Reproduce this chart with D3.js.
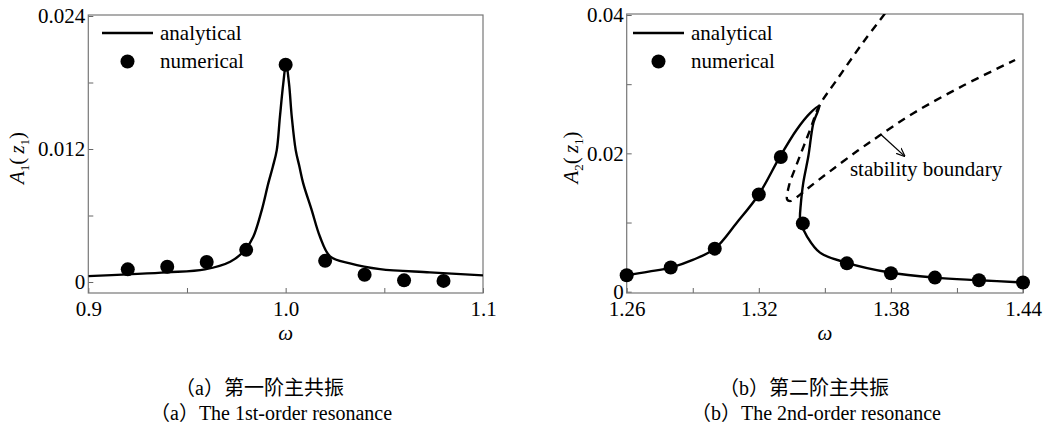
<!DOCTYPE html>
<html><head><meta charset="utf-8">
<script src="https://cdn.jsdelivr.net/npm/d3@7/dist/d3.min.js"></script>
<style>
html,body{margin:0;padding:0;background:#fff;}
svg{display:block;}
text{font-family:"Liberation Serif","Times New Roman",serif;fill:#000;}
text.cap{font-family:"Liberation Serif","Noto Sans CJK SC",serif;}
</style></head>
<body>
<svg id="chart" width="1052" height="434"></svg>
<script>
// ---------- data: (a) 1st-order resonance ----------
const aCurveOmega = [0.900,0.920,0.940,0.9591,0.9719,0.9794,0.9836,0.9879,0.9912,0.9935,0.9955,0.9971,0.9988,1.0002,1.0017,1.0031,1.0051,1.0070,1.0089,1.0132,1.0174,1.0225,1.0326,1.0478,1.0731,1.100];
const aCurveA     = [0.00053,0.00069,0.00087,0.00114,0.00183,0.00288,0.00408,0.00649,0.00890,0.01040,0.01190,0.01491,0.01792,0.01972,0.01792,0.01491,0.01190,0.01040,0.00890,0.00649,0.00408,0.00232,0.00168,0.00116,0.00087,0.00060];
const aNumOmega   = [0.92,0.94,0.96,0.98,1.00,1.02,1.04,1.06,1.08];
const aNumA       = [0.00114,0.00137,0.00180,0.00290,0.01960,0.00191,0.00065,0.00015,0.00010];
const aXTicks = [0.9,1.0,1.1], aXTickLabels = ["0.9","1.0","1.1"], aXMinor = [0.95,1.05];
const aYTicks = [0,0.012,0.024], aYTickLabels = ["0","0.012","0.024"], aYMinor = [0.006,0.018];

// ---------- data: (b) 2nd-order resonance ----------
const bCurveOmega = [1.260,1.270,1.280,1.290,1.300,1.310,1.320,1.3293,1.3372,1.3433,1.3475,1.3448,1.3425,1.3402,1.3390,1.3387,1.3392,1.3418,1.3478,1.3596,1.3796,1.400,1.420,1.440];
const bCurveA     = [0.00238,0.00290,0.00349,0.00460,0.00622,0.00997,0.01405,0.01934,0.02342,0.02582,0.02687,0.02438,0.01957,0.01573,0.01236,0.01069,0.00983,0.00804,0.00565,0.00421,0.00277,0.00204,0.00166,0.00133];
const bNumOmega   = [1.26,1.28,1.30,1.32,1.33,1.34,1.36,1.38,1.40,1.42,1.44];
const bNumA       = [0.00238,0.00349,0.00622,0.01405,0.01948,0.00987,0.00410,0.00267,0.00204,0.00166,0.00133];
const bStabOmega  = [1.3773,1.3675,1.3554,1.3475,1.3433,1.3372,1.3337,1.3329,1.3342,1.3357,1.3425,1.3523,1.3650,1.3750,1.3902,1.4129,1.4364];
const bStabA      = [0.0402,0.0361,0.0306,0.0269,0.0234,0.0184,0.0153,0.0133,0.0131,0.0133,0.0150,0.0174,0.0204,0.0226,0.0258,0.0298,0.0335];
const bXTicks = [1.26,1.32,1.38,1.44], bXTickLabels = ["1.26","1.32","1.38","1.44"], bXMinor = [1.29,1.35,1.41];
const bYTicks = [0,0.02,0.04], bYTickLabels = ["0","0.02","0.04"], bYMinor = [0.01,0.03];

const legendLabels = ["analytical","numerical"];
const captionsCN = ["（a）第一阶主共振","（b）第二阶主共振"];
const captionsEN = ["（a）The 1st-order resonance","（b）The 2nd-order resonance"];
const annotationText = "stability boundary";

// ---------- drawing ----------
const SERIF = "'Liberation Serif','Times New Roman',serif";
const svg = d3.select("#chart");
const defs = svg.append("defs");
defs.append("marker").attr("id","arr").attr("viewBox","0 0 10 10").attr("refX",9).attr("refY",5)
  .attr("markerWidth",9).attr("markerHeight",9).attr("markerUnits","userSpaceOnUse").attr("orient","auto")
  .append("path").attr("d","M0,1 L10,5 L0,9").attr("fill","none").attr("stroke","#000").attr("stroke-width",1.3);

function panel(cfg){
  const {id,left,right,top,bottom,x,y} = cfg;
  const g = svg.append("g");
  defs.append("clipPath").attr("id","clip"+id).append("rect")
    .attr("x",left).attr("y",top).attr("width",right-left).attr("height",bottom-top);
  const fmtX = (d)=>cfg.xLabels[cfg.xTicks.indexOf(d)];
  const fmtY = (d)=>cfg.yLabels[cfg.yTicks.indexOf(d)];
  const ax = g.append("g").attr("transform",`translate(0,${bottom})`)
    .call(d3.axisBottom(x).tickValues(cfg.xTicks).tickFormat(fmtX).tickSizeInner(-5).tickSizeOuter(0).tickPadding(4));
  const axm = g.append("g").attr("transform",`translate(0,${bottom})`)
    .call(d3.axisBottom(x).tickValues(cfg.xMinor).tickFormat("").tickSizeInner(-5).tickSizeOuter(0));
  const ay = g.append("g").attr("transform",`translate(${left},0)`)
    .call(d3.axisLeft(y).tickValues(cfg.yTicks).tickFormat(fmtY).tickSizeInner(-5).tickSizeOuter(0).tickPadding(3));
  const aym = g.append("g").attr("transform",`translate(${left},0)`)
    .call(d3.axisLeft(y).tickValues(cfg.yMinor).tickFormat("").tickSizeInner(-5).tickSizeOuter(0));
  [ax,axm,ay,aym].forEach(a=>{
    a.attr("font-family",null).attr("font-size",null);
    a.select(".domain").remove();
    a.selectAll("line").attr("stroke","#666").attr("stroke-width",1);
    a.selectAll("text").style("font-family",SERIF).style("font-size","21px").attr("fill","#000");
  });
  ax.selectAll("text").attr("dy","0.9em");
  ay.selectAll("text").attr("dy","0.33em");
  g.append("rect").attr("x",left).attr("y",top).attr("width",right-left).attr("height",bottom-top)
    .attr("fill","none").attr("stroke","#777").attr("stroke-width",1.2);
  const plot = g.append("g").attr("clip-path",`url(#clip${id})`);
  if(cfg.stab){
    plot.append("path").datum(cfg.stab)
      .attr("d",d3.line().x(d=>x(d[0])).y(d=>y(d[1])).curve(d3.curveCatmullRom.alpha(0.5)))
      .attr("fill","none").attr("stroke","#000").attr("stroke-width",2.4).attr("stroke-dasharray","8,6");
  }
  plot.append("path").datum(cfg.curve)
    .attr("d",d3.line().x(d=>x(d[0])).y(d=>y(d[1])).curve(d3.curveCatmullRom.alpha(0.5)))
    .attr("fill","none").attr("stroke","#000").attr("stroke-width",2.4).attr("stroke-linejoin","round");
  g.append("g").selectAll("circle").data(cfg.pts).join("circle")
    .attr("cx",d=>x(d[0])).attr("cy",d=>y(d[1])).attr("r",7).attr("fill","#000");
  const lx = cfg.legendX;
  g.append("line").attr("x1",lx).attr("x2",lx+51).attr("y1",33).attr("y2",33).attr("stroke","#000").attr("stroke-width",2.4);
  g.append("circle").attr("cx",lx+25.5).attr("cy",61.5).attr("r",7).attr("fill","#000");
  g.append("text").attr("x",lx+58).attr("y",33).attr("dy","0.32em").style("font-family",SERIF).style("font-size","21px").text(legendLabels[0]);
  g.append("text").attr("x",lx+58).attr("y",61).attr("dy","0.32em").style("font-family",SERIF).style("font-size","21px").text(legendLabels[1]);
  const yl = g.append("text").attr("transform",`translate(${cfg.yLabelX},${(top+bottom)/2+4}) rotate(-90)`)
    .attr("text-anchor","middle").style("font-family",SERIF).style("font-size","21px");
  yl.append("tspan").attr("font-style","italic").text("A");
  yl.append("tspan").style("font-size","13px").attr("dy",5).text(cfg.sub);
  yl.append("tspan").attr("dy",-5).text("(\u2009");
  yl.append("tspan").attr("font-style","italic").text("z");
  yl.append("tspan").style("font-size","13px").attr("dy",5).text("1");
  yl.append("tspan").attr("dy",-5).text(")");
  g.append("text").attr("x",(left+right)/2).attr("y",340).attr("text-anchor","middle")
    .style("font-family",SERIF).style("font-size","21px").attr("font-style","italic").text("\u03C9");
  return g;
}

const xa = d3.scaleLinear().domain([0.9,1.1]).range([88.3,483]);
const ya = d3.scaleLinear().domain([0,0.024]).range([282,16]);
panel({id:"a",left:88.3,right:483,top:15,bottom:293,x:xa,y:ya,
  xTicks:aXTicks,xLabels:aXTickLabels,xMinor:aXMinor,yTicks:aYTicks,yLabels:aYTickLabels,yMinor:aYMinor,
  curve:d3.zip(aCurveOmega,aCurveA),pts:d3.zip(aNumOmega,aNumA),legendX:102,yLabelX:24,sub:"1"});

const xb = d3.scaleLinear().domain([1.26,1.44]).range([626.7,1023]);
const yb = d3.scaleLinear().domain([0,0.04]).range([291.7,15]);
const gb = panel({id:"b",left:626.7,right:1023,top:14,bottom:293,x:xb,y:yb,
  xTicks:bXTicks,xLabels:bXTickLabels,xMinor:bXMinor,yTicks:bYTicks,yLabels:bYTickLabels,yMinor:bYMinor,
  curve:d3.zip(bCurveOmega,bCurveA),pts:d3.zip(bNumOmega,bNumA),stab:d3.zip(bStabOmega,bStabA),
  legendX:633,yLabelX:578,sub:"2"});

gb.append("line").attr("x1",xb(1.3752)).attr("y1",yb(0.0228)).attr("x2",xb(1.3862)).attr("y2",yb(0.0196))
  .attr("stroke","#000").attr("stroke-width",1.3).attr("marker-end","url(#arr)");
gb.append("text").attr("x",xb(1.3614)).attr("y",yb(0.0167)).style("font-family",SERIF).style("font-size","21px").text(annotationText);

const capCN = [175,719], capEN = [150,691];
captionsCN.forEach((t,i)=>svg.append("text").attr("class","cap").attr("x",capCN[i]).attr("y",395).style("font-size","20px").text(t));
captionsEN.forEach((t,i)=>svg.append("text").attr("class","cap").attr("x",capEN[i]).attr("y",420).style("font-size","20px").text(t));
</script>
</body></html>
